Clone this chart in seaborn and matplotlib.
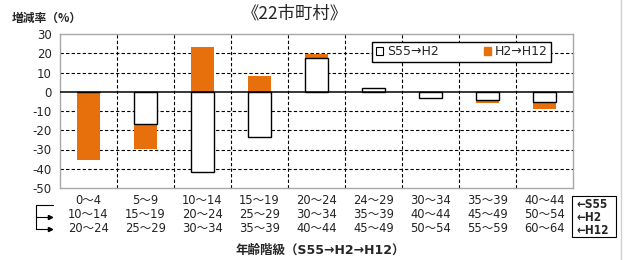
import numpy as np
import matplotlib
matplotlib.use("Agg")
import matplotlib.pyplot as plt
import seaborn as sns
from matplotlib.patches import Patch, Rectangle
from matplotlib.lines import Line2D

# Data
age_s55 = ["0～4", "5～9", "10～14", "15～19", "20～24", "24～29", "30～34", "35～39", "40～44"]
age_h2 = ["10～14", "15～19", "20～24", "25～29", "30～34", "35～39", "40～44", "45～49", "50～54"]
age_h12 = ["20～24", "25～29", "30～34", "35～39", "40～44", "45～49", "50～54", "55～59", "60～64"]
s55_h2 = np.array([0, -17, -41.5, -23.5, 17.5, 2, -3, -4.5, -5.5])
h2_h12 = np.array([-35.5, -12.5, 23.5, 8, 2, 0, 0, -1.5, -3.5])
yticks = list(range(-50, 31, 10))

ORANGE = "#E8700C"
LATIN = ['DejaVu Sans', 'Noto Sans CJK JP']

sns.set_style("white")
plt.rcParams['font.family'] = ['Noto Sans CJK JP', 'DejaVu Sans']

# Excel-style stacking: the orange part sits on the white bar when signs match
base = np.where(np.sign(s55_h2) == np.sign(h2_h12), s55_h2, 0)
stack_end = base + h2_h12

fig = plt.figure(figsize=(6.27, 2.60), dpi=100)
ax = fig.add_axes([60 / 627, 1 - 188 / 260, 513 / 627, 154 / 260])

sns.barplot(x=age_s55, y=stack_end, order=age_s55, color=ORANGE, saturation=1,
            width=0.42, linewidth=0, ax=ax)
sns.barplot(x=age_s55, y=s55_h2, order=age_s55, color="white", saturation=1,
            width=0.42, edgecolor="black", linewidth=1.0, ax=ax)

ax.set_ylim(-50, 30)
ax.set_xlim(-0.5, len(age_s55) - 0.5)
ax.set_yticks(yticks)
ax.set_yticklabels([str(v) for v in yticks], fontsize=8.5, family='DejaVu Sans')
ax.tick_params(axis='y', length=0, pad=6)
ax.set_xticks([])
ax.tick_params(axis='x', which='both', length=0)
ax.set_xlabel("")
ax.set_ylabel("")

for v in yticks[1:-1]:
    if v != 0:
        ax.axhline(v, color="black", lw=0.8, ls=(0, (3, 2)), zorder=0)
for xv in np.arange(0.5, len(age_s55) - 1, 1.0):
    ax.axvline(xv, color="black", lw=0.8, ls=(0, (3, 2)), zorder=0)
ax.axhline(0, color="black", lw=1.1, zorder=3)

for s in ax.spines.values():
    s.set_color("#a8a8a8")
    s.set_linewidth(1.0)

# three rows of age labels
for row, labels in enumerate([age_s55, age_h2, age_h12]):
    for i, lab in enumerate(labels):
        ax.annotate(lab, xy=(i, 0), xycoords=('data', 'axes fraction'),
                    xytext=(0, -13 - 14 * row), textcoords='offset pixels',
                    ha='center', va='center', fontsize=8.3, family=LATIN,
                    color="#222222")

# legend
handles = [Patch(facecolor="white", edgecolor="black", linewidth=0.8, label="S55→H2"),
           Patch(facecolor=ORANGE, edgecolor=ORANGE, label="H2→H12")]
leg = ax.legend(handles=handles, ncol=2, loc='upper right',
                bbox_to_anchor=(0.958, 0.95), frameon=True, framealpha=1,
                prop={'family': LATIN, 'size': 9},
                fancybox=False, handlelength=0.6, handleheight=0.6,
                handletextpad=0.3, columnspacing=3.6, borderpad=0.3,
                borderaxespad=0)
leg.get_frame().set_edgecolor("black")
leg.get_frame().set_linewidth(1.0)

# titles
fig.text(295 / 627, 1 - 13 / 260, "《22市町村》", ha='center', va='center', fontsize=12.5)
fig.text(12 / 627, 1 - 18 / 260, "増減率（%）", ha='left', va='center', fontsize=8.5,
         fontweight='bold')
fig.text(320 / 627, 1 - 250 / 260, "年齢階級（S55→H2→H12）", ha='center', va='center',
         fontsize=9, family=LATIN, fontweight='bold')

# arrows on the left linking the rows
W, H = 627, 260
fig.add_artist(Line2D([53 / W, 36 / W, 36 / W], [1 - 205 / H, 1 - 205 / H, 1 - 229 / H],
                      transform=fig.transFigure, color="black", lw=0.8))
for yy in (217, 229):
    fig.add_artist(Line2D([36 / W, 50 / W], [1 - yy / H, 1 - yy / H],
                          transform=fig.transFigure, color="black", lw=0.8))
    fig.add_artist(Line2D([50 / W], [1 - yy / H], transform=fig.transFigure,
                          marker='>', markersize=3, color="black"))

# right side key box
fig.add_artist(Rectangle((572 / W, 1 - 237 / H), 44 / W, 41 / H, transform=fig.transFigure,
                         facecolor="white", edgecolor="black", lw=0.8))
for k, txt in enumerate(["←S55", "←H2", "←H12"]):
    fig.text(576 / W, 1 - (204 + 13.5 * k) / H, txt, ha='left', va='center', fontsize=8.5,
             family='DejaVu Sans', fontstretch='condensed', fontweight='bold')

# page border on the far right
fig.add_artist(Line2D([621 / W, 621 / W], [0, 1], transform=fig.transFigure,
                      color="#d0d0d0", lw=1.0))

fig.savefig("out.png", dpi=100)
